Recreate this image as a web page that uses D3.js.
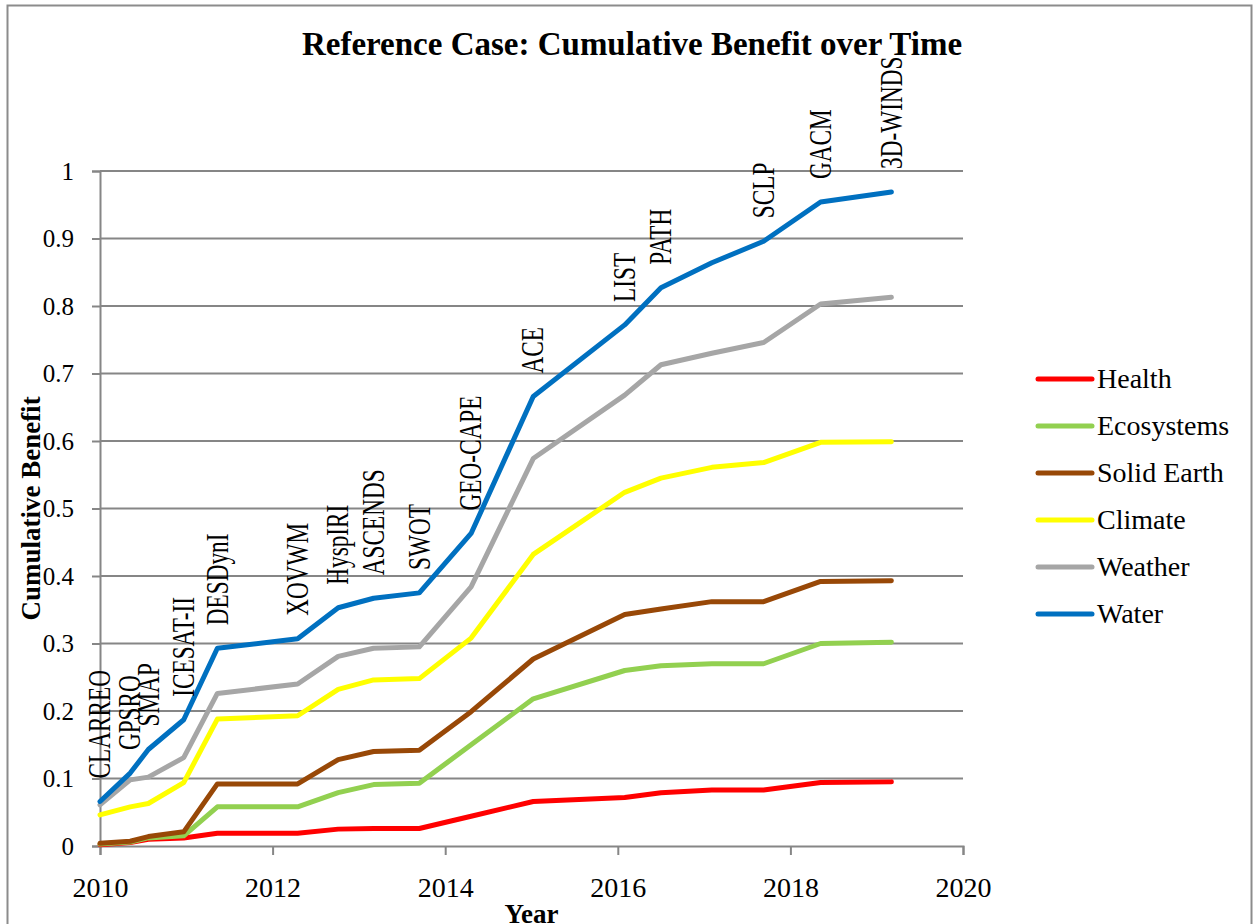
<!DOCTYPE html>
<html>
<head>
<meta charset="utf-8">
<script src="https://cdn.jsdelivr.net/npm/d3@7"></script>
<style>
  body { margin: 0; background: #fff; }
  svg text { font-family: "Liberation Serif", "Times New Roman", serif !important; fill: #000; }
  .title { font-weight: bold; font-size: 33px; }
  .axis-label { font-weight: bold; font-size: 27px; }
</style>
</head>
<body>
<svg width="1255" height="924"></svg>
<script>
// mission names and launch years (x positions of the line vertices)
const missions = ['CLARREO', 'GPSRO', 'SMAP', 'ICESAT-II', 'DESDynI', 'XOVWM', 'HyspIRI', 'ASCENDS',
  'SWOT', 'GEO-CAPE', 'ACE', 'LIST', 'PATH', '', 'SCLP', 'GACM', '3D-WINDS']
const years = [2010.0, 2010.35, 2010.56, 2010.97, 2011.36, 2012.29, 2012.76, 2013.17,
  2013.70, 2014.30, 2015.02, 2016.08, 2016.50, 2017.09, 2017.69, 2018.35, 2019.17]

// cumulative benefit per theme
const health = [0.002, 0.005, 0.010, 0.012, 0.019, 0.019, 0.025, 0.026, 0.026, 0.044, 0.066, 0.072, 0.079, 0.083, 0.083, 0.094, 0.095]
const ecosystems = [0.003, 0.006, 0.012, 0.015, 0.058, 0.058, 0.079, 0.091, 0.093, 0.150, 0.218, 0.260, 0.267, 0.270, 0.270, 0.300, 0.302]
const solidEarth = [0.004, 0.007, 0.014, 0.021, 0.092, 0.092, 0.128, 0.140, 0.142, 0.199, 0.277, 0.343, 0.351, 0.362, 0.362, 0.392, 0.393]
const climate = [0.046, 0.058, 0.063, 0.094, 0.188, 0.193, 0.232, 0.246, 0.248, 0.308, 0.432, 0.524, 0.545, 0.561, 0.568, 0.598, 0.599]
const weather = [0.061, 0.098, 0.102, 0.131, 0.226, 0.240, 0.281, 0.293, 0.295, 0.384, 0.574, 0.668, 0.713, 0.730, 0.746, 0.803, 0.813]
const water = [0.066, 0.108, 0.143, 0.187, 0.293, 0.307, 0.353, 0.367, 0.375, 0.463, 0.666, 0.772, 0.827, 0.864, 0.896, 0.954, 0.969]

const seriesNames = ['Health', 'Ecosystems', 'Solid Earth', 'Climate', 'Weather', 'Water']
const seriesValues = [health, ecosystems, solidEarth, climate, weather, water]
const seriesColors = ['#ff0000', '#92d050', '#984807', '#ffff00', '#a6a6a6', '#0070c0']

const xTicks = [2010, 2012, 2014, 2016, 2018, 2020]
const yTicks = [0, 0.1, 0.2, 0.3, 0.4, 0.5, 0.6, 0.7, 0.8, 0.9, 1]

const svg = d3.select('svg')
const width = +svg.attr('width')
const margin = {top: 171, right: 292, bottom: 78, left: 100}
const innerWidth = width - margin.left - margin.right
const innerHeight = +svg.attr('height') - margin.top - margin.bottom
const gridColor = '#868686'

// outer chart frame
svg.append('rect')
  .attr('x', 7.5).attr('y', 5.5)
  .attr('width', 1244).attr('height', 940)
  .attr('fill', 'none').attr('stroke', '#8c8c8c').attr('stroke-width', 2)

const xScale = d3.scaleLinear().domain([2010, 2020]).range([0, innerWidth])
const yScale = d3.scaleLinear().domain([0, 1]).range([innerHeight, 0])

const g = svg.append('g')
  .attr('transform', `translate(${margin.left},${margin.top})`)

// horizontal gridlines
g.append('g')
  .selectAll('line').data(yTicks.filter(d => d > 0))
  .enter().append('line')
    .attr('x1', 0).attr('x2', innerWidth)
    .attr('y1', d => yScale(d)).attr('y2', d => yScale(d))
    .attr('stroke', gridColor).attr('stroke-width', 2)

const yAxisG = g.append('g')
  .call(d3.axisLeft(yScale).tickValues(yTicks).tickFormat(d3.format('')).tickSize(8).tickPadding(18))
yAxisG.selectAll('.domain, .tick line').attr('stroke', gridColor).attr('stroke-width', 2)
yAxisG.selectAll('.tick text').style('font-size', '25px')

const xAxisG = g.append('g')
  .attr('transform', `translate(0,${innerHeight})`)
  .call(d3.axisBottom(xScale).tickValues(xTicks).tickFormat(d3.format('d')).tickSize(9).tickPadding(22))
xAxisG.selectAll('.domain, .tick line').attr('stroke', gridColor).attr('stroke-width', 2)
xAxisG.selectAll('.tick text').style('font-size', '28px')

// series lines
const line = d3.line()
  .x((d, i) => xScale(years[i]))
  .y(d => yScale(d))

g.selectAll('path.series').data(seriesValues)
  .enter().append('path')
    .attr('class', 'series')
    .attr('d', line)
    .attr('fill', 'none')
    .attr('stroke', (d, i) => seriesColors[i])
    .attr('stroke-width', 5)
    .attr('stroke-linejoin', 'round')
    .attr('stroke-linecap', 'round')

// title
svg.append('text')
  .attr('class', 'title')
  .attr('x', 632).attr('y', 55)
  .attr('text-anchor', 'middle')
  .text('Reference Case: Cumulative Benefit over Time')

// mission labels above the Water line, rotated and a bit condensed
g.selectAll('text.mission').data(missions)
  .enter().append('text')
    .attr('class', 'mission')
    .attr('transform', (d, i) =>
      `translate(${xScale(years[i])},${yScale(water[i]) - 23}) rotate(-90) scale(0.75,1)`)
    .attr('dy', '0.33em')
    .style('font-size', '31px')
    .text(d => d)

// axis titles
svg.append('text')
  .attr('class', 'axis-label')
  .attr('transform', `translate(40,${margin.top + innerHeight / 2}) rotate(-90)`)
  .attr('text-anchor', 'middle')
  .text('Cumulative Benefit')

svg.append('text')
  .attr('class', 'axis-label')
  .attr('x', margin.left + innerWidth / 2).attr('y', 923)
  .attr('text-anchor', 'middle')
  .text('Year')

// legend
const legend = svg.append('g').attr('transform', 'translate(1038,379)')
const legendRows = legend.selectAll('g').data(seriesNames)
  .enter().append('g')
    .attr('transform', (d, i) => `translate(0,${i * 47})`)
legendRows.append('line')
  .attr('x1', 0).attr('x2', 54)
  .attr('stroke', (d, i) => seriesColors[i])
  .attr('stroke-width', 5)
  .attr('stroke-linecap', 'round')
legendRows.append('text')
  .attr('x', 59)
  .attr('dy', '0.33em')
  .style('font-size', '28px')
  .text(d => d)
</script>
</body>
</html>
